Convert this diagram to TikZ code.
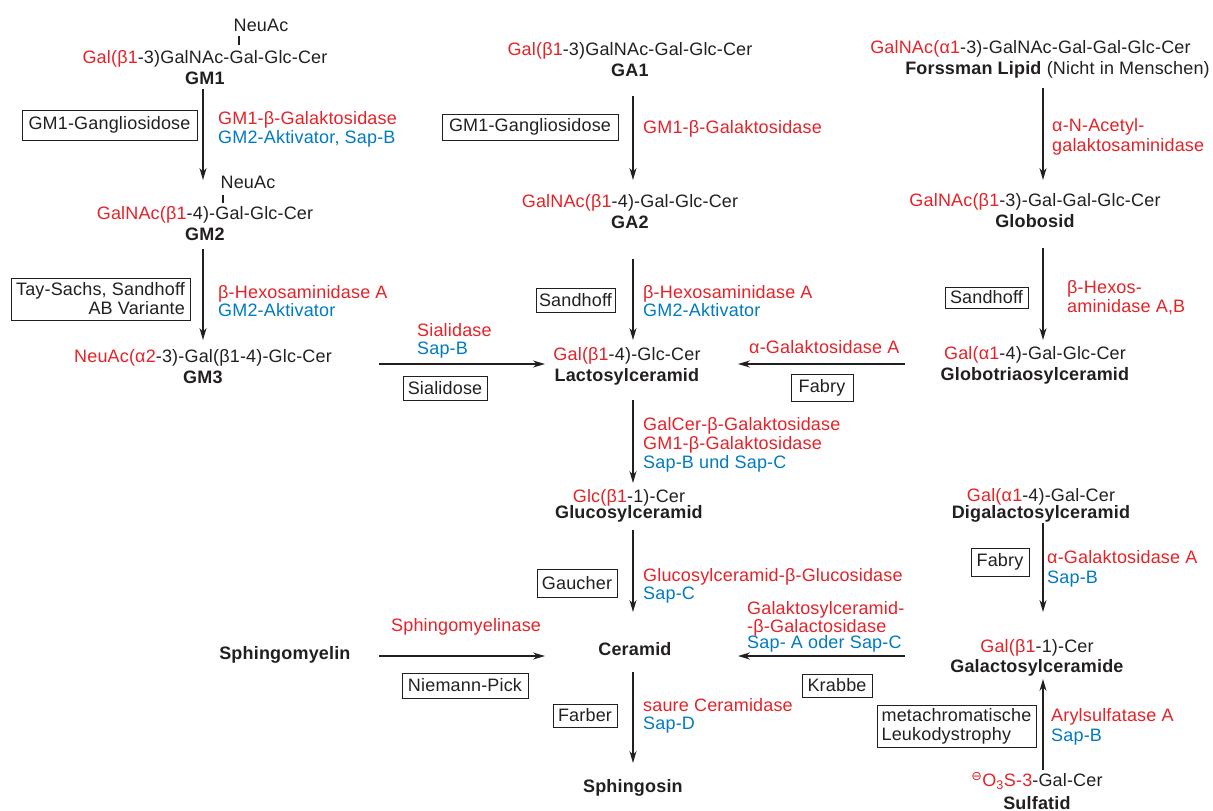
\documentclass[tikz,border=0pt]{standalone}
\usepackage{fontspec}
\setmainfont{Liberation Sans}[LetterSpace=1.0]
\newfontfamily\symfont{DejaVu Sans}
\usetikzlibrary{arrows.meta}
\definecolor{enzred}{RGB}{228,34,40}
\definecolor{sapblue}{RGB}{0,122,194}
\definecolor{txtblack}{RGB}{35,31,32}
\tikzstyle{chem} = [inner sep=0pt, align=center,
    font=\fontsize{18pt}{21pt}\selectfont]
\tikzstyle{enzyme} = [inner sep=0pt, anchor=north west, align=left,
    font=\fontsize{18pt}{19pt}\selectfont]
\tikzstyle{disease} = [rectangle, draw, line width=0.7pt, inner sep=3pt,
    font=\fontsize{18pt}{19pt}\selectfont]
\tikzstyle{conv} = [-{Stealth[length=12pt,width=7pt]}, line width=1.5pt]
\tikzstyle{link} = [line width=1.2pt]
\newcommand{\enz}[1]{\textcolor{enzred}{#1}}
\newcommand{\sap}[1]{\textcolor{sapblue}{#1}}

\begin{document}
\begin{tikzpicture}[x=1pt, y=-1pt, color=txtblack]
    \useasboundingbox (0,0) rectangle (1213,811);
    \coordinate (c1) at (203,0);
    \coordinate (c2) at (633,0);
    \coordinate (c3) at (1043,0);
    \coordinate (t1) at (239,0);
    \coordinate (t2) at (223,0);
    \coordinate (r1) at (0,364);
    \coordinate (r2) at (0,656);

    % ganglio series
    \node (gm1neu) [chem] at (261,25) {NeuAc};
    \node (gm1) [chem] at (205,67.4) {\enz{Gal(β1}-3)GalNAc-Gal-Glc-Cer\\\textbf{GM1}};
    \node (gm2neu) [chem] at (248,182) {NeuAc};
    \node (gm2) [chem] at (205,223.4) {\enz{GalNAc(β1}-4)-Gal-Glc-Cer\\\textbf{GM2}};
    \node (gm3) [chem] at (203,366.4) {\enz{NeuAc(α2}-3)-Gal(β1-4)-Glc-Cer\\\textbf{GM3}};

    % asialo series
    \node (ga1) [chem] at (630,59.4) {\enz{Gal(β1}-3)GalNAc-Gal-Glc-Cer\\\textbf{GA1}};
    \node (ga2) [chem] at (630,211.4) {\enz{GalNAc(β1}-4)-Gal-Glc-Cer\\\textbf{GA2}};
    \node (lac) [chem] at (627,366.3) {\enz{Gal(β1}-4)-Glc-Cer\\\textbf{Lactosylceramid}};
    \node (glc) [chem] at (629,505.8) {\enz{Glc(β1}-1)-Cer\\[-5pt]\textbf{Glucosylceramid}};
    \node (cer) [chem] at (635,649) {\textbf{Ceramid}};
    \node (sph) [chem] at (633,788) {\textbf{Sphingosin}};
    \node (sm) [chem] at (285,655) {\textbf{Sphingomyelin}};

    % globo series
    \node (fors) [chem, align=left] at (1040,59.3) {\enz{GalNAc(α1}-3)-GalNAc-Gal-Gal-Glc-Cer\\\hspace*{35pt}\textbf{Forssman Lipid} (Nicht in Menschen)};
    \node (glob) [chem] at (1035,210.4) {\enz{GalNAc(β1}-3)-Gal-Gal-Glc-Cer\\\textbf{Globosid}};
    \node (gb3) [chem] at (1035,365.3) {\enz{Gal(α1}-4)-Gal-Glc-Cer\\\textbf{Globotriaosylceramid}};

    % gala series
    \node (digal) [chem] at (1041,505.3) {\enz{Gal(α1}-4)-Gal-Cer\\[-4pt]\textbf{Digalactosylceramid}};
    \node (galc) [chem] at (1037,657.8) {\enz{Gal(β1}-1)-Cer\\[-1pt]\textbf{Galactosylceramide}};
    \node (sulf) [chem] at (1037,791) {\enz{\textsuperscript{\symfont ⊖}O\textsubscript{3}S-3}-Gal-Cer\\[2pt]\textbf{Sulfatid}};

    % enzymes
    \node (e1) [enzyme] at (218,111.4) {\enz{GM1-β-Galaktosidase}\\\sap{GM2-Aktivator, Sap-B}};
    \node (e2) [enzyme] at (218,285.4) {\enz{β-Hexosaminidase A}\\[-1pt]\sap{GM2-Aktivator}};
    \node (e3) [enzyme] at (417,323.4) {\enz{Sialidase}\\[-1pt]\sap{Sap-B}};
    \node (e4) [enzyme] at (643,120.4) {\enz{GM1-β-Galaktosidase}};
    \node (e5) [enzyme] at (643,285.4) {\enz{β-Hexosaminidase A}\\[-1pt]\sap{GM2-Aktivator}};
    \node (e6) [enzyme] at (749,340.4) {\enz{α-Galaktosidase A}};
    \node (e7) [enzyme] at (1052,118.4) {\enz{α-N-Acetyl-}\\[1pt]\enz{galaktosaminidase}};
    \node (e8) [enzyme] at (1067,280.4) {\enz{β-Hexos-}\\\enz{aminidase A,B}};
    \node (e9) [enzyme] at (643,417.4) {\enz{GalCer-β-Galaktosidase}\\\enz{GM1-β-Galaktosidase}\\\sap{Sap-B und Sap-C}};
    \node (e10) [enzyme] at (643,568.4) {\enz{Glucosylceramid-β-Glucosidase}\\[-1pt]\sap{Sap-C}};
    \node (e11) [enzyme] at (391,618.4) {\enz{Sphingomyelinase}};
    \node (e12) [enzyme] at (747,601.4) {\enz{Galaktosylceramid-}\\[-1.5pt]\enz{-β-Galactosidase}\\[-2.5pt]\sap{Sap- A oder Sap-C}};
    \node (e13) [enzyme] at (643,698.4) {\enz{saure Ceramidase}\\[-1pt]\sap{Sap-D}};
    \node (e14) [enzyme] at (1047,550.4) {\enz{α-Galaktosidase A}\\[1pt]\sap{Sap-B}};
    \node (e15) [enzyme] at (1051,708.4) {\enz{Arylsulfatase A}\\[1pt]\sap{Sap-B}};

    % diseases
    \node (d1) [disease, minimum width=175pt, minimum height=30pt] at (109.5,125) {GM1-Gangliosidose};
    \node (d2) [disease, align=right, minimum width=179pt, minimum height=42pt] at (100.5,299) {Tay-Sachs, Sandhoff\\AB Variante};
    \node (d3) [disease, minimum width=176pt, minimum height=26pt] at (530,127) {GM1-Gangliosidose};
    \node (d4) [disease, minimum width=79pt, minimum height=24pt] at (575.5,300) {Sandhoff};
    \node (d5) [disease, minimum width=84pt, minimum height=24pt] at (445,388) {Sialidose};
    \node (d6) [disease, minimum width=62pt, minimum height=27pt] at (822,387.5) {Fabry};
    \node (d7) [disease, minimum width=83pt, minimum height=21pt] at (986.5,297.5) {Sandhoff};
    \node (d8) [disease, minimum width=80pt, minimum height=28pt] at (577,583) {Gaucher};
    \node (d9) [disease, minimum width=126pt, minimum height=25pt] at (465,685.5) {Niemann-Pick};
    \node (d10) [disease, minimum width=64pt, minimum height=23pt] at (585,715.5) {Farber};
    \node (d11) [disease, minimum width=70pt, minimum height=23pt] at (837,685.5) {Krabbe};
    \node (d12) [disease, minimum width=58pt, minimum height=28pt] at (1000,562) {Fabry};
    \node (d13) [disease, align=left, minimum width=159pt, minimum height=41pt] at (956.5,726.5) {metachromatische\\Leukodystrophy};

    % NeuAc branches
    \draw [link, shorten <=11pt, shorten >=22.4pt] (gm1neu -| t1) -- (gm1 -| t1);
    \draw [link, shorten <=13pt, shorten >=20.4pt] (gm2neu -| t2) -- (gm2 -| t2);

    % degradation steps
    \draw [conv, shorten <=21.6pt, shorten >=2pt] (gm1 -| c1) -- (gm2neu -| c1);
    \draw [conv, shorten <=25.6pt, shorten >=26.4pt] (gm2 -| c1) -- (gm3 -| c1);
    \draw [conv, shorten <=36.6pt, shorten >=31.4pt] (ga1 -| c2) -- (ga2 -| c2);
    \draw [conv, shorten <=47.6pt, shorten >=26.3pt] (ga2 -| c2) -- (lac -| c2);
    \draw [conv, shorten <=33.7pt, shorten >=22.8pt] (lac -| c2) -- (glc -| c2);
    \draw [conv, shorten <=24.2pt, shorten >=37pt] (glc -| c2) -- (cer -| c2);
    \draw [conv, shorten <=23pt, shorten >=25pt] (cer -| c2) -- (sph -| c2);
    \draw [conv, shorten <=28.7pt, shorten >=30.4pt] (fors -| c3) -- (glob -| c3);
    \draw [conv, shorten <=37.6pt, shorten >=25.3pt] (glob -| c3) -- (gb3 -| c3);
    \draw [conv, shorten <=17.7pt, shorten >=45.8pt] (digal -| c3) -- (galc -| c3);
    \draw [conv, shorten <=21pt, shorten >=21.2pt] (sulf -| c3) -- (galc -| c3);

    % side branches
    \draw [conv, shorten <=176pt, shorten >=82pt] (gm3 |- r1) -- (lac |- r1);
    \draw [conv, shorten <=130pt, shorten >=111pt] (gb3 |- r1) -- (lac |- r1);
    \draw [conv, shorten <=94pt, shorten >=90pt] (sm |- r2) -- (cer |- r2);
    \draw [conv, shorten <=132pt, shorten >=103pt] (galc |- r2) -- (cer |- r2);
\end{tikzpicture}
\end{document}
